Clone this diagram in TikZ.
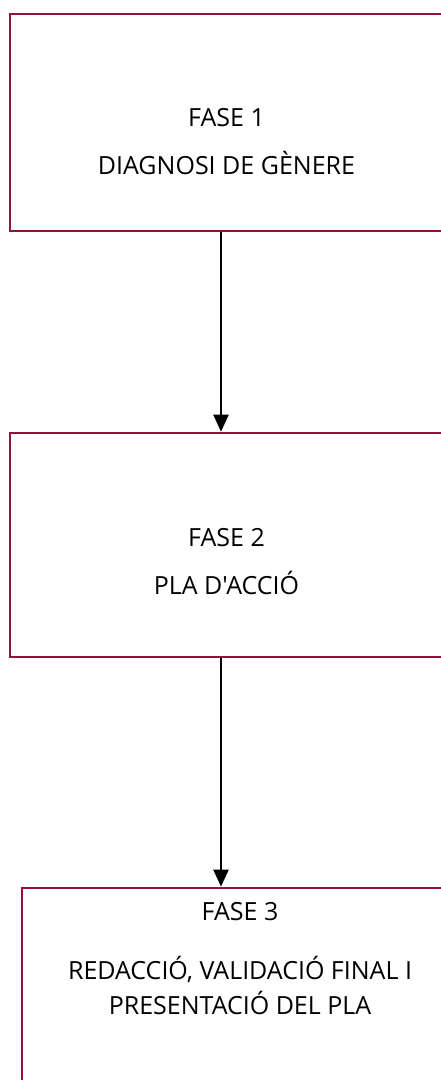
\documentclass[tikz,border=0pt]{standalone}
\usepackage{fontspec}
\setmainfont{Open Sans}[Ligatures=TeXOff]
\usetikzlibrary{arrows.meta}
\definecolor{frame}{RGB}{145,20,56}
\begin{document}
\begin{tikzpicture}[x=1pt,y=-1pt,
  phase/.style={draw=frame,line width=2.6pt,fill=white,inner sep=0pt},
  lbl/.style={font=\fontsize{25}{35}\selectfont,align=center,inner sep=0pt},
  conn/.style={line width=2.2pt,-{Triangle[length=17pt,width=15pt]}}]
\useasboundingbox (0,0) rectangle (440,1080);
\node[phase,minimum width=433pt,minimum height=217pt] (b1) at (226.5,122.5) {};
\node[phase,minimum width=433pt,minimum height=224pt] (b2) at (226.5,545) {};
\node[phase,minimum width=436pt,minimum height=230pt] (b3) at (240,1003) {};
\node[lbl] (t1a) at (226.5,118) {FASE 1};
\node[lbl] (t1b) at (226.5,163) {DIAGNOSI DE GÈNERE};
\node[lbl] (t2a) at (226.5,538) {FASE 2};
\node[lbl] (t2b) at (226.5,583) {PLA D'ACCIÓ};
\node[lbl] (t3a) at (240,912) {FASE 3};
\node[lbl] (t3b) at (240,985) {REDACCIÓ, VALIDACIÓ FINAL I\\PRESENTACIÓ DEL PLA};
\coordinate (ax) at (221,0);
\draw[conn] (b1.south -| ax) -- (b2.north -| ax);
\draw[conn] (b2.south -| ax) -- (b3.north -| ax);
\end{tikzpicture}
\end{document}
